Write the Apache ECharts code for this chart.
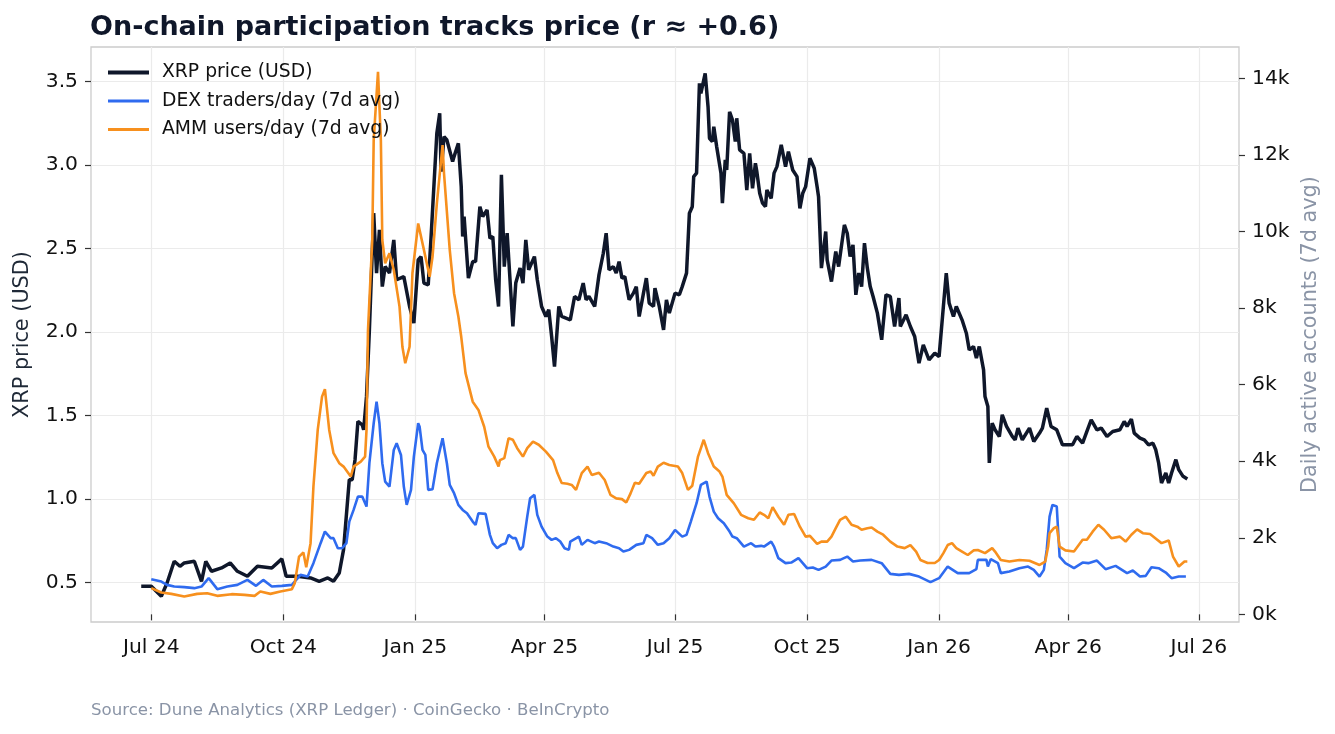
<!DOCTYPE html>
<html>
<head>
<meta charset="utf-8">
<title>On-chain participation tracks price</title>
<script src="https://cdn.jsdelivr.net/npm/echarts@6.0.0/dist/echarts.min.js"></script>
<style>
  html, body { margin: 0; padding: 0; background: #fff; }
  #main { width: 1335px; height: 734px; }
</style>
</head>
<body>
<div id="main"></div>
<script>
// XRP price (USD), daily close
var priceDates = [
  '2024-06-24','2024-07-01','2024-07-08','2024-07-12','2024-07-17','2024-07-21','2024-07-24','2024-07-31',
  '2024-08-05','2024-08-08','2024-08-12','2024-08-19','2024-08-25','2024-08-30','2024-09-06','2024-09-13',
  '2024-09-23','2024-09-30','2024-10-03','2024-10-11','2024-10-20','2024-10-26','2024-11-01','2024-11-05',
  '2024-11-09','2024-11-12','2024-11-16','2024-11-18','2024-11-20','2024-11-22','2024-11-25','2024-11-26',
  '2024-11-28','2024-11-30','2024-12-03','2024-12-05','2024-12-07','2024-12-09','2024-12-11','2024-12-14',
  '2024-12-17','2024-12-19','2024-12-24','2024-12-28','2024-12-31','2025-01-03','2025-01-05','2025-01-07',
  '2025-01-10','2025-01-12','2025-01-16','2025-01-18','2025-01-19','2025-01-21','2025-01-23','2025-01-27',
  '2025-01-28','2025-01-31','2025-02-02','2025-02-03','2025-02-04','2025-02-07','2025-02-10','2025-02-12',
  '2025-02-15','2025-02-17','2025-02-20','2025-02-22','2025-02-24','2025-02-26','2025-02-28','2025-03-02',
  '2025-03-04','2025-03-06','2025-03-10','2025-03-12','2025-03-15','2025-03-17','2025-03-19','2025-03-21',
  '2025-03-25','2025-03-27','2025-03-30','2025-04-02','2025-04-04','2025-04-06','2025-04-08','2025-04-11',
  '2025-04-13','2025-04-19','2025-04-22','2025-04-25','2025-04-28','2025-04-30','2025-05-02','2025-05-06',
  '2025-05-09','2025-05-12','2025-05-14','2025-05-16','2025-05-19','2025-05-21','2025-05-23','2025-05-25',
  '2025-05-27','2025-05-30','2025-06-02','2025-06-04','2025-06-06','2025-06-09','2025-06-11','2025-06-13',
  '2025-06-16','2025-06-17','2025-06-20','2025-06-23','2025-06-25','2025-06-27','2025-07-01','2025-07-04',
  '2025-07-06','2025-07-09','2025-07-11','2025-07-13','2025-07-14','2025-07-16','2025-07-18','2025-07-19',
  '2025-07-22','2025-07-24','2025-07-25','2025-07-27','2025-07-28','2025-07-30','2025-08-02','2025-08-03',
  '2025-08-05','2025-08-06','2025-08-08','2025-08-10','2025-08-12','2025-08-13','2025-08-15','2025-08-18',
  '2025-08-20','2025-08-22','2025-08-24','2025-08-26','2025-08-27','2025-08-29','2025-08-31','2025-09-02',
  '2025-09-03','2025-09-06','2025-09-08','2025-09-10','2025-09-13','2025-09-16','2025-09-18','2025-09-21',
  '2025-09-24','2025-09-26','2025-09-28','2025-09-30','2025-10-03','2025-10-06','2025-10-08','2025-10-09',
  '2025-10-11','2025-10-14','2025-10-15','2025-10-18','2025-10-21','2025-10-23','2025-10-27','2025-10-29',
  '2025-10-31','2025-11-02','2025-11-04','2025-11-06','2025-11-08','2025-11-10','2025-11-12','2025-11-14',
  '2025-11-16','2025-11-19','2025-11-22','2025-11-25','2025-11-28','2025-12-01','2025-12-04','2025-12-05',
  '2025-12-09','2025-12-12','2025-12-15','2025-12-18','2025-12-21','2025-12-25','2025-12-29','2026-01-01',
  '2026-01-04','2026-01-06','2026-01-08','2026-01-11','2026-01-13','2026-01-17','2026-01-20','2026-01-22',
  '2026-01-25','2026-01-27','2026-01-29','2026-02-01','2026-02-02','2026-02-04','2026-02-05','2026-02-07',
  '2026-02-09','2026-02-12','2026-02-14','2026-02-17','2026-02-21','2026-02-23','2026-02-25','2026-02-28',
  '2026-03-05','2026-03-08','2026-03-12','2026-03-14','2026-03-17','2026-03-20','2026-03-24','2026-03-28',
  '2026-03-31','2026-04-04','2026-04-07','2026-04-11','2026-04-14','2026-04-17','2026-04-21','2026-04-24',
  '2026-04-28','2026-05-02','2026-05-07','2026-05-10','2026-05-12','2026-05-15','2026-05-17','2026-05-21',
  '2026-05-24','2026-05-27','2026-05-30','2026-06-01','2026-06-03','2026-06-04','2026-06-05','2026-06-08',
  '2026-06-10','2026-06-12','2026-06-15','2026-06-17','2026-06-20','2026-06-23'
];
var priceValues = [
  0.476,0.476,0.416,0.496,0.626,0.596,0.616,0.626,
  0.506,0.626,0.566,0.586,0.616,0.566,0.536,0.596,
  0.586,0.640,0.536,0.536,0.526,0.506,0.526,0.506,
  0.556,0.696,1.115,1.115,1.235,1.464,1.444,1.414,
  1.614,2.013,2.712,2.353,2.612,2.272,2.392,2.353,
  2.552,2.313,2.332,2.153,2.053,2.432,2.452,2.293,
  2.283,2.572,3.191,3.311,2.961,3.171,3.151,3.021,
  3.051,3.131,2.871,2.572,2.692,2.323,2.422,2.422,
  2.751,2.692,2.732,2.562,2.572,2.313,2.153,2.942,
  2.392,2.592,2.033,2.293,2.383,2.293,2.552,2.373,
  2.452,2.313,2.153,2.093,2.133,1.973,1.793,2.153,
  2.093,2.073,2.213,2.193,2.293,2.193,2.213,2.153,
  2.343,2.472,2.592,2.373,2.392,2.353,2.422,2.323,
  2.332,2.193,2.233,2.272,2.093,2.233,2.323,2.173,
  2.153,2.263,2.153,2.013,2.193,2.113,2.233,2.223,
  2.272,2.353,2.712,2.751,2.931,2.952,3.490,3.430,
  3.550,3.350,3.161,3.141,3.230,3.111,2.952,2.772,
  3.031,2.971,3.320,3.271,3.141,3.281,3.091,3.071,
  2.851,3.071,2.861,3.011,2.961,2.832,2.772,2.751,
  2.851,2.801,2.952,2.991,3.121,2.991,3.081,2.971,
  2.931,2.741,2.832,2.871,3.041,2.981,2.871,2.811,
  2.383,2.602,2.432,2.302,2.482,2.392,2.642,2.592,
  2.452,2.522,2.223,2.353,2.272,2.532,2.383,2.272,
  2.213,2.113,1.953,2.223,2.213,2.033,2.203,2.033,
  2.103,2.033,1.973,1.813,1.923,1.833,1.873,1.853,
  2.153,2.353,2.173,2.093,2.153,2.073,1.993,1.893,
  1.913,1.843,1.913,1.773,1.613,1.553,1.215,1.454,
  1.414,1.374,1.504,1.434,1.374,1.354,1.424,1.354,
  1.424,1.344,1.394,1.424,1.544,1.434,1.414,1.324,
  1.324,1.324,1.374,1.334,1.404,1.474,1.414,1.424,
  1.374,1.404,1.414,1.464,1.434,1.478,1.394,1.364,
  1.354,1.324,1.334,1.294,1.215,1.155,1.095,1.155,
  1.095,1.155,1.235,1.175,1.135,1.119
];

// DEX traders per day, 7-day average
var dexDates = [
  '2024-07-01','2024-07-08','2024-07-12','2024-07-17','2024-07-24','2024-07-31','2024-08-05','2024-08-10',
  '2024-08-16','2024-08-23','2024-08-30','2024-09-06','2024-09-12','2024-09-17','2024-09-23','2024-09-30',
  '2024-10-07','2024-10-13','2024-10-18','2024-10-22','2024-10-27','2024-10-30','2024-11-03','2024-11-05',
  '2024-11-08','2024-11-11','2024-11-14','2024-11-16','2024-11-19','2024-11-22','2024-11-25','2024-11-28',
  '2024-11-30','2024-12-03','2024-12-05','2024-12-07','2024-12-09','2024-12-11','2024-12-14','2024-12-17',
  '2024-12-19','2024-12-22','2024-12-24','2024-12-26','2024-12-29','2024-12-31','2025-01-03','2025-01-04',
  '2025-01-06','2025-01-08','2025-01-10','2025-01-13','2025-01-16','2025-01-20','2025-01-23','2025-01-25',
  '2025-01-28','2025-01-31','2025-02-03','2025-02-06','2025-02-10','2025-02-12','2025-02-14','2025-02-19',
  '2025-02-22','2025-02-24','2025-02-27','2025-03-02','2025-03-05','2025-03-07','2025-03-10','2025-03-12',
  '2025-03-15','2025-03-17','2025-03-20','2025-03-22','2025-03-25','2025-03-27','2025-03-30','2025-04-03',
  '2025-04-06','2025-04-09','2025-04-12','2025-04-15','2025-04-18','2025-04-19','2025-04-25','2025-04-27',
  '2025-05-01','2025-05-06','2025-05-09','2025-05-14','2025-05-19','2025-05-23','2025-05-26','2025-05-30',
  '2025-06-04','2025-06-09','2025-06-11','2025-06-15','2025-06-19','2025-06-23','2025-06-27','2025-07-01',
  '2025-07-06','2025-07-09','2025-07-12','2025-07-16','2025-07-19','2025-07-23','2025-07-25','2025-07-28',
  '2025-07-31','2025-08-04','2025-08-08','2025-08-10','2025-08-13','2025-08-18','2025-08-23','2025-08-26',
  '2025-08-30','2025-09-01','2025-09-06','2025-09-08','2025-09-11','2025-09-16','2025-09-20','2025-09-25',
  '2025-09-28','2025-10-01','2025-10-05','2025-10-09','2025-10-14','2025-10-18','2025-10-24','2025-10-29',
  '2025-11-02','2025-11-07','2025-11-15','2025-11-22','2025-11-28','2025-12-04','2025-12-11','2025-12-18',
  '2025-12-26','2026-01-01','2026-01-07','2026-01-14','2026-01-22','2026-01-27','2026-01-28','2026-02-03',
  '2026-02-04','2026-02-06','2026-02-11','2026-02-13','2026-02-19','2026-02-26','2026-03-04','2026-03-08',
  '2026-03-12','2026-03-15','2026-03-17','2026-03-19','2026-03-21','2026-03-24','2026-03-26','2026-03-30',
  '2026-04-05','2026-04-11','2026-04-15','2026-04-21','2026-04-27','2026-05-04','2026-05-12','2026-05-16',
  '2026-05-21','2026-05-25','2026-05-29','2026-06-03','2026-06-08','2026-06-12','2026-06-17','2026-06-22'
];
var dexValues = [
  919,857,770,726,710,684,726,945,
  658,726,770,900,744,900,726,744,
  770,1031,987,1337,1859,2162,1990,1990,
  1728,1728,1859,2423,2728,3076,3076,2815,
  3948,4992,5556,4992,3948,3467,3337,4295,
  4470,4164,3337,2859,3251,4120,4992,4903,
  4295,4164,3251,3269,3948,4600,3948,3381,
  3164,2859,2728,2642,2423,2337,2642,2624,
  2076,1859,1728,1815,1859,2076,1990,1990,
  1684,1770,2553,3034,3120,2598,2292,2031,
  1945,1990,1901,1728,1684,1901,2031,1815,
  1945,1859,1901,1859,1770,1728,1640,1684,
  1815,1859,2076,1990,1815,1859,1990,2206,
  2031,2076,2423,2903,3381,3467,3076,2684,
  2512,2381,2162,2031,1990,1770,1859,1770,
  1789,1770,1901,1770,1467,1337,1353,1467,
  1337,1206,1222,1162,1248,1405,1423,1509,
  1379,1405,1423,1337,1057,1031,1057,987,
  841,945,1248,1076,1076,1180,1423,1423,
  1248,1441,1337,1076,1118,1206,1248,1162,
  987,1162,1684,2553,2859,2815,1509,1337,
  1206,1353,1337,1405,1180,1266,1076,1144,
  987,1005,1232,1206,1092,945,987,987
];

// AMM users per day, 7-day average
var ammDates = [
  '2024-07-01','2024-07-08','2024-07-15','2024-07-24','2024-08-02','2024-08-09','2024-08-16','2024-08-26',
  '2024-09-04','2024-09-11','2024-09-15','2024-09-22','2024-09-29','2024-10-07','2024-10-09','2024-10-12',
  '2024-10-15','2024-10-17','2024-10-20','2024-10-22','2024-10-25','2024-10-28','2024-10-30','2024-11-02',
  '2024-11-05','2024-11-09','2024-11-12','2024-11-17','2024-11-19','2024-11-24','2024-11-27','2024-11-28',
  '2024-11-29','2024-12-02','2024-12-03','2024-12-06','2024-12-08','2024-12-09','2024-12-11','2024-12-14',
  '2024-12-17','2024-12-21','2024-12-23','2024-12-25','2024-12-28','2024-12-30','2025-01-03','2025-01-07',
  '2025-01-11','2025-01-13','2025-01-16','2025-01-20','2025-01-21','2025-01-25','2025-01-28','2025-01-31',
  '2025-02-02','2025-02-05','2025-02-10','2025-02-14','2025-02-18','2025-02-21','2025-02-25','2025-02-28',
  '2025-03-01','2025-03-04','2025-03-07','2025-03-10','2025-03-13','2025-03-17','2025-03-20','2025-03-24',
  '2025-03-28','2025-04-02','2025-04-07','2025-04-10','2025-04-13','2025-04-17','2025-04-20','2025-04-23',
  '2025-04-27','2025-05-01','2025-05-04','2025-05-09','2025-05-13','2025-05-17','2025-05-21','2025-05-25',
  '2025-05-28','2025-05-31','2025-06-03','2025-06-06','2025-06-11','2025-06-14','2025-06-16','2025-06-19',
  '2025-06-23','2025-06-27','2025-07-03','2025-07-06','2025-07-10','2025-07-13','2025-07-17','2025-07-21',
  '2025-07-24','2025-07-28','2025-08-01','2025-08-03','2025-08-06','2025-08-11','2025-08-16','2025-08-21',
  '2025-08-25','2025-08-29','2025-09-01','2025-09-04','2025-09-07','2025-09-11','2025-09-15','2025-09-18',
  '2025-09-22','2025-09-26','2025-09-30','2025-10-03','2025-10-08','2025-10-11','2025-10-15','2025-10-18',
  '2025-10-21','2025-10-24','2025-10-28','2025-11-01','2025-11-05','2025-11-08','2025-11-12','2025-11-15',
  '2025-11-19','2025-11-23','2025-11-28','2025-12-03','2025-12-08','2025-12-12','2025-12-16','2025-12-19',
  '2025-12-24','2025-12-29','2026-01-01','2026-01-04','2026-01-07','2026-01-10','2026-01-13','2026-01-17',
  '2026-01-21','2026-01-25','2026-01-28','2026-02-02','2026-02-07','2026-02-09','2026-02-13','2026-02-19',
  '2026-02-26','2026-03-05','2026-03-12','2026-03-16','2026-03-18','2026-03-19','2026-03-22','2026-03-24',
  '2026-03-26','2026-03-30','2026-04-05','2026-04-11','2026-04-14','2026-04-18','2026-04-22','2026-04-26',
  '2026-05-01','2026-05-07','2026-05-11','2026-05-15','2026-05-19','2026-05-23','2026-05-28','2026-06-02',
  '2026-06-05','2026-06-10','2026-06-13','2026-06-17','2026-06-21','2026-06-23'
];
var ammValues = [
  684,569,535,465,535,553,483,527,
  509,483,595,535,595,658,815,1509,
  1614,1232,1859,3337,4817,5687,5880,4817,
  4209,3948,3859,3598,3859,3990,4120,4817,
  7400,9778,12389,14170,12389,9778,9170,9430,
  8995,8037,6990,6560,6990,8910,10210,9520,
  8820,9340,10730,12260,11520,9520,8390,7780,
  7250,6300,5556,5340,4900,4380,4120,3860,
  4030,4080,4600,4560,4340,4120,4340,4510,
  4430,4250,4030,3690,3430,3410,3380,3250,
  3690,3860,3640,3700,3510,3120,3030,3010,
  2920,3160,3440,3410,3690,3730,3620,3860,
  3960,3900,3860,3690,3250,3360,4120,4560,
  4210,3860,3730,3600,3120,2900,2600,2510,
  2470,2660,2600,2510,2800,2550,2340,2600,
  2620,2290,2030,2050,1840,1900,1900,2030,
  2250,2470,2550,2340,2290,2210,2250,2270,
  2160,2080,1900,1770,1730,1810,1640,1420,
  1340,1340,1420,1600,1810,1860,1730,1640,
  1550,1670,1680,1600,1730,1640,1420,1380,
  1420,1400,1290,1380,1770,2120,2250,2290,
  1770,1670,1640,1950,1950,2160,2340,2210,
  1990,2030,1900,2080,2220,2120,2100,1950,
  1860,1930,1510,1250,1380,1380
];

// axis ticks
var xTickDates = ['2024-07-01','2024-10-01','2025-01-01','2025-04-01','2025-07-01','2025-10-01','2026-01-01','2026-04-01','2026-07-01'];
var xTickLabels = ['Jul 24','Oct 24','Jan 25','Apr 25','Jul 25','Oct 25','Jan 26','Apr 26','Jul 26'];
var priceTicks = [0.5, 1.0, 1.5, 2.0, 2.5, 3.0, 3.5];
var accountTicks = [0, 2000, 4000, 6000, 8000, 10000, 12000, 14000];

function toTime(s) {
  var p = s.split('-');
  return Date.UTC(+p[0], +p[1] - 1, +p[2]);
}
function pairs(dates, values) {
  return dates.map(function (d, i) { return [toTime(d), values[i]]; });
}

var xTickTimes = xTickDates.map(toTime);
var FONT = 'DejaVu Sans';
var TICK_FONT = 20.3;

var chart = echarts.init(document.getElementById('main'));
var option = {
  animation: false,
  backgroundColor: '#ffffff',
  textStyle: { fontFamily: FONT },
  title: [{
    text: 'On-chain participation tracks price (r \u2248 +0.6)',
    left: 85,
    top: 9,
    textStyle: { fontFamily: FONT, fontSize: 27, fontWeight: 'bold', color: '#0f172a' }
  }, {
    text: 'Source: Dune Analytics (XRP Ledger) \u00b7 CoinGecko \u00b7 BeInCrypto',
    left: 86,
    top: 697,
    textStyle: { fontFamily: FONT, fontSize: 16.6, fontWeight: 'normal', color: '#8a94a6' }
  }],
  legend: {
    orient: 'vertical',
    left: 106,
    top: 63,
    padding: 0,
    itemWidth: 41,
    itemHeight: 16,
    itemGap: 9.5,
    itemStyle: { opacity: 0 },   // hide the symbol dot, keep only the line
    textStyle: { fontFamily: FONT, fontSize: 18.75, color: '#111111', padding: [0, 0, 0, 8] },
    data: [
      { name: 'XRP price (USD)', lineStyle: { width: 4 } },
      { name: 'DEX traders/day (7d avg)', lineStyle: { width: 3.2 } },
      { name: 'AMM users/day (7d avg)', lineStyle: { width: 3.2 } }
    ]
  },
  grid: {
    left: 91, right: 96, top: 47, bottom: 112,
    show: true, borderColor: '#cccccc', borderWidth: 1.3, backgroundColor: 'transparent'
  },
  // dates on a plain value axis (ms), so quarterly ticks can be placed exactly
  xAxis: {
    type: 'value',
    min: toTime('2024-05-20'),
    max: toTime('2026-07-29'),
    axisLine: { show: false },
    axisTick: { show: true, customValues: xTickTimes, length: 6, lineStyle: { color: '#333333', width: 1.2 } },
    axisLabel: {
      customValues: xTickTimes,
      margin: 16,
      fontFamily: FONT, fontSize: TICK_FONT, color: '#111111',
      formatter: function (v) {
        var i = xTickTimes.indexOf(v);
        return i >= 0 ? xTickLabels[i] : '';
      }
    },
    splitLine: { show: true, lineStyle: { color: '#ebebeb', width: 1.2 } }
  },
  yAxis: [{
    type: 'value',
    min: 0.262,
    max: 3.708,
    name: 'XRP price (USD)',
    nameLocation: 'middle',
    nameGap: 58,
    nameTextStyle: { fontFamily: FONT, fontSize: 20.8, color: '#1f2937' },
    axisLine: { show: false },
    axisTick: { show: true, customValues: priceTicks, length: 6, lineStyle: { color: '#333333', width: 1.2 } },
    axisLabel: {
      customValues: priceTicks,
      margin: 13,
      fontFamily: FONT, fontSize: TICK_FONT, color: '#111111',
      formatter: function (v) { return v.toFixed(1); }
    },
    splitLine: { show: true, lineStyle: { color: '#ebebeb', width: 1.2 } }
  }, {
    type: 'value',
    position: 'right',
    min: -200,
    max: 14820,
    name: 'Daily active accounts (7d avg)',
    nameLocation: 'middle',
    nameGap: 59,
    nameRotate: 90,
    nameTextStyle: { fontFamily: FONT, fontSize: 20.8, color: '#8a94a6' },
    axisLine: { show: false },
    axisTick: { show: true, customValues: accountTicks, length: 6, lineStyle: { color: '#333333', width: 1.2 } },
    axisLabel: {
      customValues: accountTicks,
      margin: 13,
      fontFamily: FONT, fontSize: TICK_FONT, color: '#111111',
      formatter: function (v) { return Math.round(v / 1000) + 'k'; }
    },
    splitLine: { show: false }
  }],
  series: [{
    name: 'XRP price (USD)',
    type: 'line',
    yAxisIndex: 0,
    symbol: 'none',
    lineStyle: { color: '#0f172a', width: 3.5 },
    itemStyle: { color: '#0f172a' },
    data: pairs(priceDates, priceValues)
  }, {
    name: 'DEX traders/day (7d avg)',
    type: 'line',
    yAxisIndex: 1,
    symbol: 'none',
    lineStyle: { color: '#2f6bef', width: 2.6 },
    itemStyle: { color: '#2f6bef' },
    data: pairs(dexDates, dexValues)
  }, {
    name: 'AMM users/day (7d avg)',
    type: 'line',
    yAxisIndex: 1,
    symbol: 'none',
    lineStyle: { color: '#f7901e', width: 2.6 },
    itemStyle: { color: '#f7901e' },
    data: pairs(ammDates, ammValues)
  }]
};
chart.setOption(option);
</script>
</body>
</html>
